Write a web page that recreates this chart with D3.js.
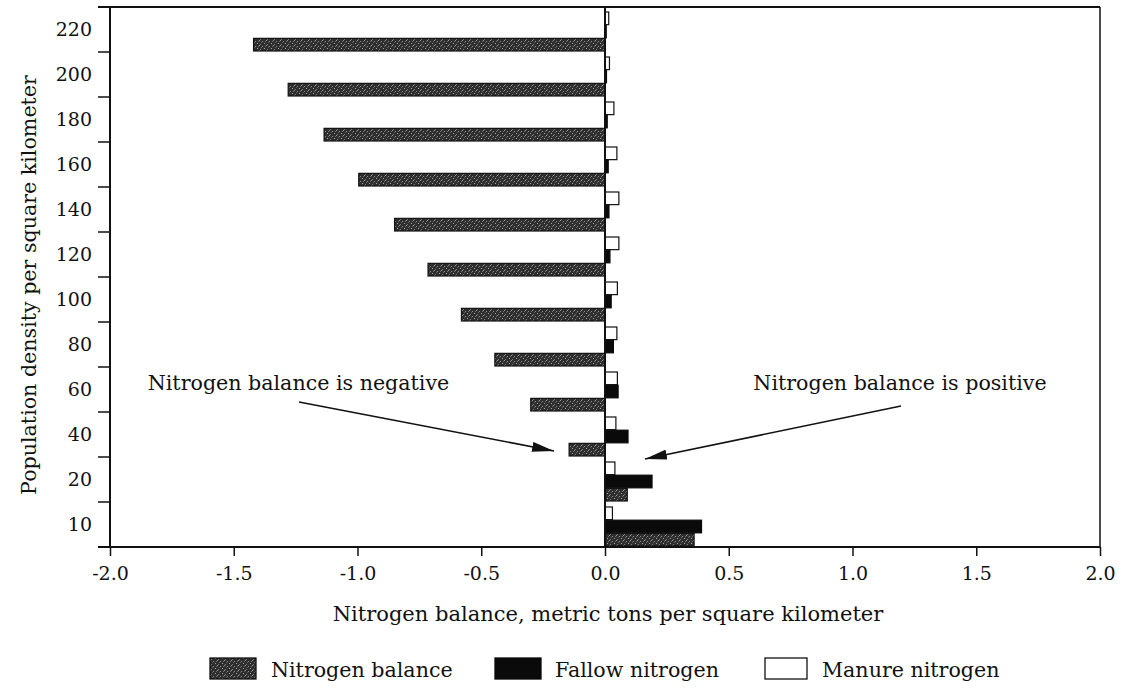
<!DOCTYPE html>
<html><head><meta charset="utf-8">
<script src="https://cdn.jsdelivr.net/npm/d3@7"></script>
<style>
body{margin:0;background:#fff;}
text{font-family:"DejaVu Serif","Liberation Serif",serif;fill:#111;}
</style></head>
<body><svg id="c" width="1132" height="693"></svg>
<script>
const categories = ["10","20","40","60","80","100","120","140","160","180","200","220"];
const balance = [0.36, 0.09, -0.145, -0.30, -0.445, -0.58, -0.715, -0.85, -0.995, -1.135, -1.28, -1.42];
const fallow  = [0.39, 0.19, 0.093, 0.053, 0.034, 0.025, 0.02, 0.016, 0.013, 0.009, 0.006, 0.005];
const manure  = [0.03, 0.04, 0.044, 0.05, 0.048, 0.05, 0.056, 0.056, 0.048, 0.036, 0.018, 0.015];
const xTicks = [-2.0,-1.5,-1.0,-0.5,0.0,0.5,1.0,1.5,2.0];
const seriesNames = ["Nitrogen balance","Fallow nitrogen","Manure nitrogen"];

const FS = 19, FT = 20.6;
const svg = d3.select("#c");
const L=110, R=1100, T=7, B=547;
const x = d3.scaleLinear().domain([-2,2]).range([L,R]);
const y = d3.scaleBand().domain(categories.slice().reverse()).range([T,B]).padding(0);
const sub = d3.scaleBand().domain(["manure","fallow","balance"]).range([5, y.bandwidth()-1]).paddingInner(0.04);

const defs = svg.append("defs");
const pat = defs.append("pattern").attr("id","stip").attr("patternUnits","userSpaceOnUse").attr("width",7).attr("height",5);
pat.append("rect").attr("width",7).attr("height",5).attr("fill","#2e2e2e");
[[0,0,"#9a9a9a"],[3,1,"#8c8c8c"],[5,3,"#a5a5a5"],[1,4,"#7a7a7a"],[6,1,"#6e6e6e"],[2,2,"#5e5e5e"]].forEach(([px,py,c])=>
  pat.append("rect").attr("x",px).attr("y",py).attr("width",1).attr("height",1).attr("fill",c));

const rows = categories.map((c,i)=>({c, balance:balance[i], fallow:fallow[i], manure:manure[i]}));
const styles = {balance:{fill:"url(#stip)",stroke:"#111"}, fallow:{fill:"#0a0a0a",stroke:"#0a0a0a"}, manure:{fill:"#fff",stroke:"#111"}};
["manure","fallow","balance"].forEach(k=>{
  svg.append("g").selectAll("rect").data(rows).join("rect")
    .attr("x", d=>x(Math.min(0,d[k])))
    .attr("width", d=>Math.abs(x(d[k])-x(0)))
    .attr("y", d=>y(d.c)+sub(k))
    .attr("height", sub.bandwidth())
    .attr("fill", styles[k].fill).attr("stroke", styles[k].stroke).attr("stroke-width",1.2);
});

// frame
svg.append("line").attr("x1",L-12).attr("x2",R).attr("y1",T).attr("y2",T).attr("stroke","#111").attr("stroke-width",2);
svg.append("line").attr("x1",R).attr("x2",R).attr("y1",T).attr("y2",B).attr("stroke","#111").attr("stroke-width",1.5);
// zero line
svg.append("line").attr("x1",x(0)).attr("x2",x(0)).attr("y1",T).attr("y2",B).attr("stroke","#111").attr("stroke-width",2);

// x axis
const fmt = v => d3.format(".1f")(v).replace("−","-");
const xa = svg.append("g").attr("transform",`translate(0,${B})`)
  .call(d3.axisBottom(x).tickValues(xTicks).tickFormat(fmt).tickSize(9).tickSizeOuter(0));
xa.select(".domain").attr("stroke","#111").attr("stroke-width",2).attr("d",`M${L-12},0H${R}`);
xa.selectAll(".tick line").attr("stroke","#111").attr("stroke-width",1.5);
xa.selectAll("text").attr("font-size",FS).attr("dy","1.1em").style("font-family","DejaVu Serif").attr("fill","#111");

// y axis
const ya = svg.append("g").attr("transform",`translate(${L},0)`)
  .call(d3.axisLeft(y).tickSize(0).tickPadding(18));
ya.select(".domain").attr("stroke","#111").attr("stroke-width",2).attr("d",`M0,${T}V${B+1}`);
ya.selectAll("text").attr("font-size",FS).style("font-family","DejaVu Serif").attr("fill","#111");
const edges = categories.map(c=>y(c)+y.bandwidth());
svg.append("g").selectAll("line").data(edges.concat([T])).join("line")
  .attr("x1",L-12).attr("x2",L).attr("y1",d=>d).attr("y2",d=>d).attr("stroke","#111").attr("stroke-width",1.5);

// titles
svg.append("text").attr("x",x(0)+3).attr("y",621).attr("text-anchor","middle").attr("font-size",21)
  .text("Nitrogen balance, metric tons per square kilometer");
svg.append("text").attr("transform","translate(36,285) rotate(-90)").attr("text-anchor","middle").attr("font-size",FT)
  .text("Population density per square kilometer");

// annotations
svg.append("text").attr("x",298.5).attr("y",390).attr("text-anchor","middle").attr("font-size",FT).text("Nitrogen balance is negative");
svg.append("text").attr("x",900).attr("y",390).attr("text-anchor","middle").attr("font-size",FT).text("Nitrogen balance is positive");
defs.append("marker").attr("id","arr").attr("viewBox","0 0 10 10").attr("refX",10).attr("refY",5)
  .attr("markerWidth",22).attr("markerHeight",10).attr("markerUnits","userSpaceOnUse").attr("orient","auto")
  .attr("preserveAspectRatio","none")
  .append("path").attr("d","M0,0L10,5L0,10z").attr("fill","#111");
svg.append("line").attr("x1",299).attr("y1",402).attr("x2",554).attr("y2",451).attr("stroke","#111").attr("stroke-width",1.6).attr("marker-end","url(#arr)");
svg.append("line").attr("x1",901).attr("y1",406).attr("x2",645).attr("y2",459).attr("stroke","#111").attr("stroke-width",1.6).attr("marker-end","url(#arr)");

// legend
const leg = [{k:"balance",x:210,tx:271},{k:"fallow",x:495,tx:555},{k:"manure",x:765,tx:822}];
const lg = svg.append("g");
leg.forEach((d,i)=>{
  lg.append("rect").attr("x",d.x).attr("y",658).attr("width",d.k==="manure"?42:46).attr("height",21)
    .attr("fill",styles[d.k].fill).attr("stroke",styles[d.k].stroke).attr("stroke-width",1.3);
  lg.append("text").attr("x",d.tx).attr("y",677).attr("font-size",FT).text(seriesNames[i]);
});
</script></body></html>
